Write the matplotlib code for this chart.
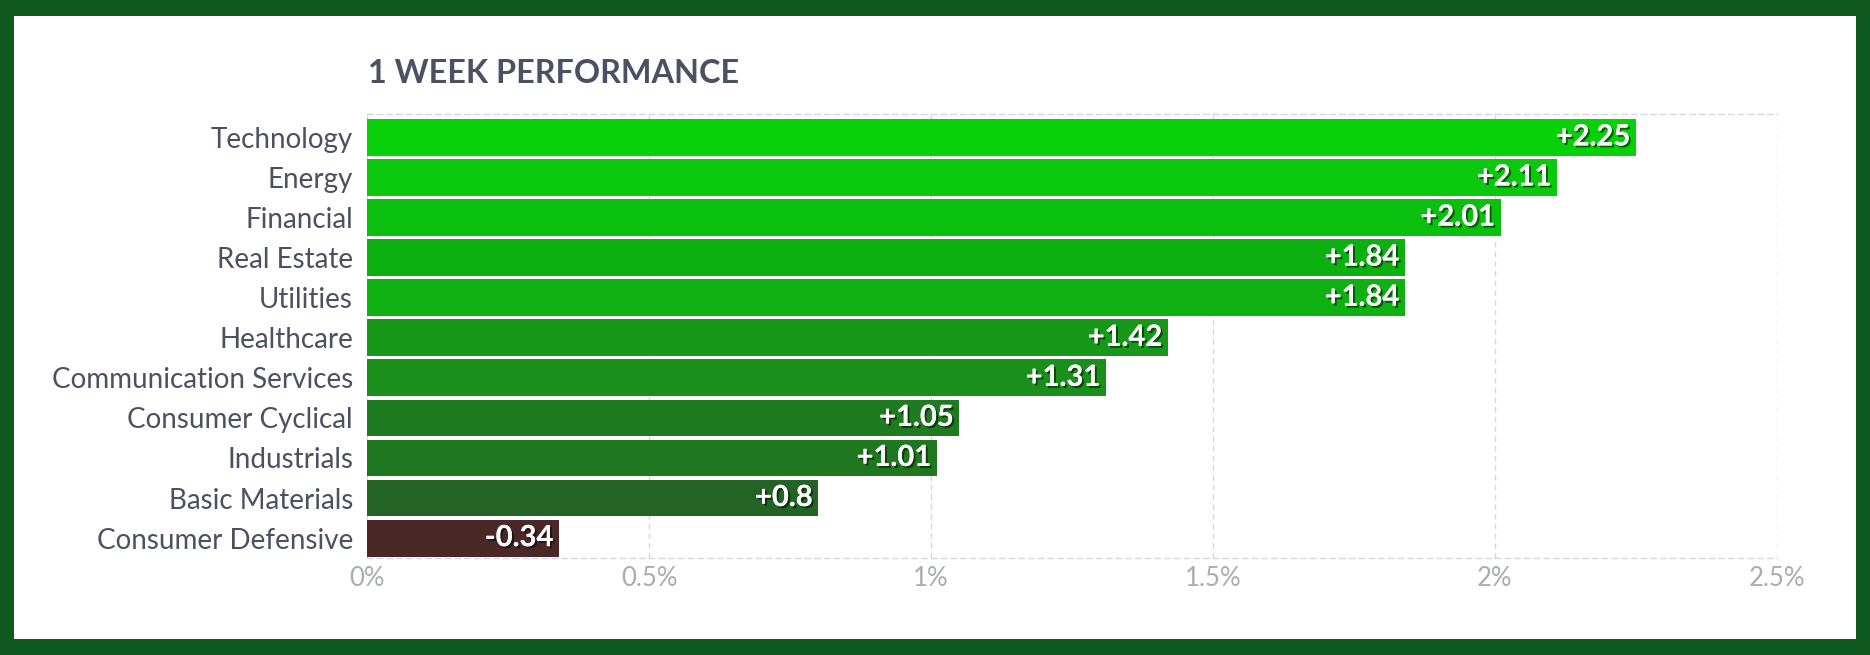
import matplotlib
matplotlib.use("Agg")
import matplotlib.pyplot as plt
import matplotlib.patheffects as pe
from matplotlib.patches import Rectangle
from matplotlib.ticker import FuncFormatter

sectors = ["Technology", "Energy", "Financial", "Real Estate", "Utilities",
           "Healthcare", "Communication Services", "Consumer Cyclical",
           "Industrials", "Basic Materials", "Consumer Defensive"]
perf = [2.25, 2.11, 2.01, 1.84, 1.84, 1.42, 1.31, 1.05, 1.01, 0.8, -0.34]
bar_colors = ["#08d10a", "#0ac80c", "#0bbf0e", "#0db011", "#0eb012",
              "#179818", "#1a8f1b", "#1e7b1f", "#1f781f", "#236425", "#4a2828"]
xticks = [0, 0.5, 1, 1.5, 2, 2.5]

plt.rcParams['font.family'] = ['Lato', 'DejaVu Sans']

fig = plt.figure(figsize=(18.7, 6.55), dpi=100)
fig.patch.set_facecolor("#0f5820")
# white card inside the green border
fig.add_artist(Rectangle((14 / 1870, 16 / 655), 1842 / 1870, 623 / 655,
                         transform=fig.transFigure, facecolor="white",
                         edgecolor="none", zorder=0))

ax = fig.add_axes([367 / 1870, 97 / 655, 1410 / 1870, 444 / 655])
ax.set_facecolor("none")

ypos = list(range(len(sectors)))
widths = [abs(v) for v in perf]
ax.barh(ypos, widths, height=0.918, color=bar_colors, zorder=2)

ax.set_xlim(0, 2.5)
ax.set_ylim(10.496, -0.584)

ax.set_yticks(ypos)
ax.set_yticklabels(sectors, fontsize=20, color="#4b5162")
ax.set_xticks(xticks)
ax.xaxis.set_major_formatter(FuncFormatter(lambda v, p: f"{v:g}%"))
for lab in ax.get_xticklabels():
    lab.set_fontsize(18.5)
    lab.set_color("#a9abb5")
ax.tick_params(axis="both", length=0)
ax.tick_params(axis="y", pad=10)
ax.tick_params(axis="x", pad=6)

ax.grid(axis="x", color="#d6d7dd", linestyle=(0, (4, 3)), linewidth=1, zorder=0)
for side in ["left", "right"]:
    ax.spines[side].set_visible(False)
for side in ["top", "bottom"]:
    ax.spines[side].set_color("#d6d7dd")
    ax.spines[side].set_linestyle((0, (4, 3)))
    ax.spines[side].set_linewidth(1)

shadow = [pe.withSimplePatchShadow(offset=(1.5, -1.5), shadow_rgbFace="black", alpha=0.5),
          pe.Normal()]
for y, v, w in zip(ypos, perf, widths):
    txt = f"{v:+g}" if v != 0 else "0"
    ax.annotate(txt, xy=(w, y), xytext=(-4, 0), textcoords="offset points",
                ha="right", va="center", fontsize=21, fontweight="bold",
                color="white", path_effects=shadow, zorder=3)

fig.text(368 / 1870, (655 - 83) / 655, "1 WEEK PERFORMANCE", fontsize=23.3,
         fontweight="bold", color="#4b5162", ha="left", va="baseline")

fig.savefig("out.png", dpi=100, facecolor=fig.get_facecolor())
